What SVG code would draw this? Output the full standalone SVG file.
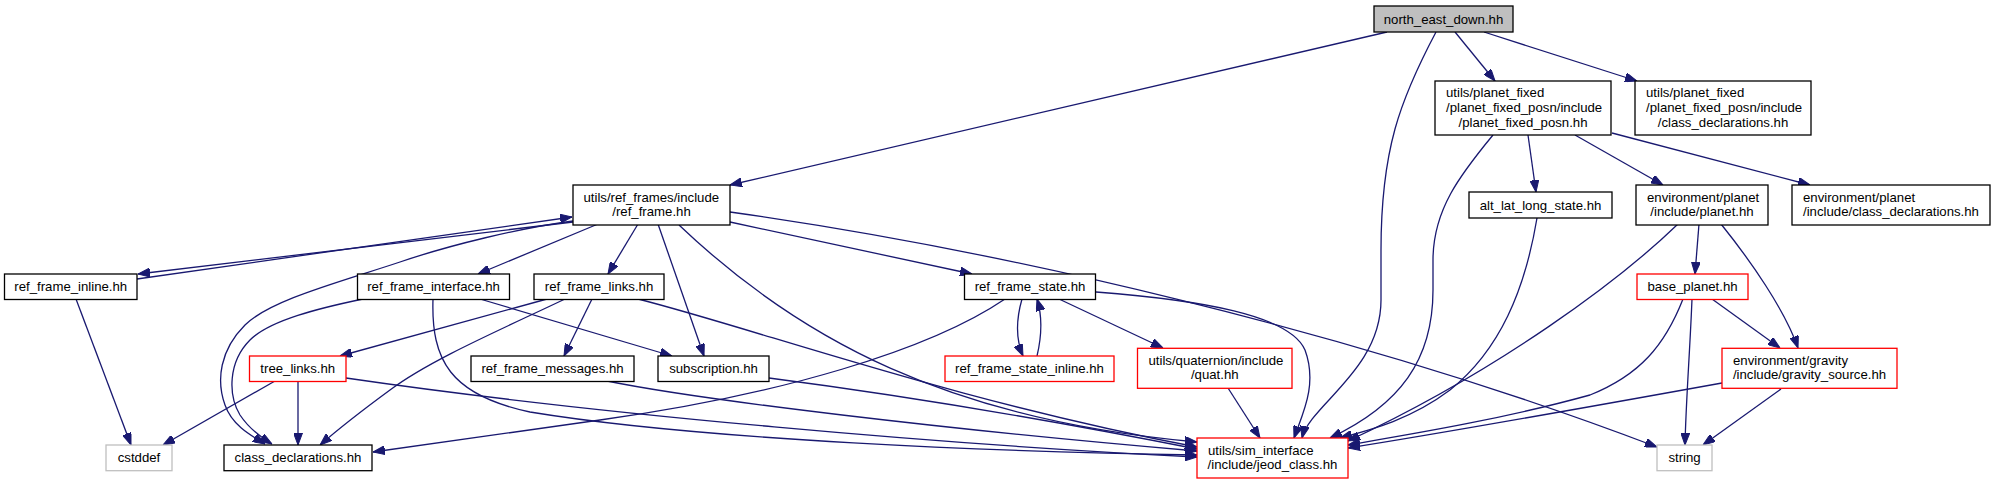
<svg xmlns="http://www.w3.org/2000/svg" width="1995" height="484" viewBox="0 0 1995 484">
<style>
.n rect{fill:#ffffff;stroke:#000000;stroke-width:1.3}
.n.r rect{stroke:#ff0000}
.n.g rect{stroke:#bfbfbf}
.n.root rect{fill:#bfbfbf}
text{font-family:"Liberation Sans",Arial,Helvetica,sans-serif;font-size:13.2px;fill:#000000}
.m{text-anchor:middle}
.s{text-anchor:start}
.e path{fill:none;stroke:#191970;stroke-width:1.3;marker-end:url(#a)}
</style>
<defs>
<marker id="a" markerWidth="12" markerHeight="9" refX="12" refY="4.5" orient="auto" markerUnits="userSpaceOnUse">
<path d="M0,0 L12,4.5 L0,9 z" fill="#191970" stroke="#191970" stroke-width="1"/>
</marker>
</defs>
<rect x="0" y="0" width="1995" height="484" fill="#ffffff"/>
<g id="edges" class="e">
<path d="M1387,32 L730,185"/>
<path d="M1436,32 C1400,100 1381,150 1381,250 L1381,300 C1381,370 1310,405 1302,438"/>
<path d="M1455,32 L1495,81"/>
<path d="M1484,32 L1637,81"/>
<path d="M1493,135 C1460,175 1433,210 1433,260 L1433,290 C1433,360 1400,405 1330,438"/>
<path d="M1528,135 L1536,192"/>
<path d="M1575,135 L1663,185"/>
<path d="M1612,133 L1810,185"/>
<path d="M1537,218 C1525,290 1500,350 1450,390 C1410,420 1370,430 1340,438"/>
<path d="M1678,224 C1620,280 1500,370 1348,441"/>
<path d="M1699,224 L1695,274"/>
<path d="M1721,224 C1750,260 1785,310 1798,348"/>
<path d="M1683,299 C1665,345 1640,375 1590,395 C1500,420 1400,436 1348,445"/>
<path d="M1692,299 C1690,350 1686,400 1685,445"/>
<path d="M1712,299 L1780,348"/>
<path d="M1722,383 C1600,405 1450,432 1348,448"/>
<path d="M1781,389 L1703,445"/>
<path d="M573,222 L138,274"/>
<path d="M137,279 L572,217"/>
<path d="M573,221 C520,228 450,245 400,262 C340,282 270,300 245,325 C220,350 216,380 225,405 C232,425 250,435 265,444"/>
<path d="M598,224 L478,274"/>
<path d="M638,224 L608,274"/>
<path d="M658,224 L704,356"/>
<path d="M679,225 C800,340 950,420 1197,442"/>
<path d="M730,222 L972,274"/>
<path d="M730,212 C1000,250 1350,330 1657,447"/>
<path d="M76,299 L131,445"/>
<path d="M363,299 C320,308 270,320 250,340 C228,362 228,395 240,415 C250,430 262,438 272,444"/>
<path d="M480,299 L672,356"/>
<path d="M433,299 C431,360 450,395 530,412 C700,440 1000,452 1197,455"/>
<path d="M547,299 L340,356"/>
<path d="M592,299 L564,356"/>
<path d="M565,299 C500,330 430,360 390,390 C360,412 335,432 320,445"/>
<path d="M638,299 C760,330 950,400 1197,447"/>
<path d="M275,381 L163,445"/>
<path d="M298,381 L298,445"/>
<path d="M346,378 C600,415 950,445 1197,457"/>
<path d="M607,381 C700,400 950,430 1197,451"/>
<path d="M769,378 C900,395 1050,420 1197,449"/>
<path d="M1005,299 C930,350 780,395 600,420 C500,434 420,445 373,452"/>
<path d="M1022,299 C1016,320 1016,340 1023,356"/>
<path d="M1037,356 C1042,335 1042,315 1037,299"/>
<path d="M1059,299 L1163,348"/>
<path d="M1096,292 C1200,300 1290,315 1305,350 C1318,385 1302,415 1294,438"/>
<path d="M1228,388 L1260,438"/>
</g>
<g id="north_east_down" class="n root"><rect x="1374" y="6" width="139" height="26"/><text class="m" x="1443.5" y="23.5">north_east_down.hh</text></g>
<g id="planet_fixed_posn" class="n"><rect x="1435" y="81" width="176" height="54"/><text class="s" x="1446" y="97.4">utils/planet_fixed</text><text class="s" x="1446" y="112">/planet_fixed_posn/include</text><text class="m" x="1523" y="126.7">/planet_fixed_posn.hh</text></g>
<g id="pf_class_declarations" class="n"><rect x="1635" y="81" width="176" height="54"/><text class="s" x="1646" y="97.4">utils/planet_fixed</text><text class="s" x="1646" y="112">/planet_fixed_posn/include</text><text class="m" x="1723" y="126.7">/class_declarations.hh</text></g>
<g id="ref_frame" class="n"><rect x="573" y="185" width="157" height="40"/><text class="s" x="583.5" y="201.8">utils/ref_frames/include</text><text class="m" x="651.5" y="216.1">/ref_frame.hh</text></g>
<g id="alt_lat_long_state" class="n"><rect x="1469" y="192" width="143" height="26"/><text class="m" x="1540.5" y="209.5">alt_lat_long_state.hh</text></g>
<g id="planet" class="n"><rect x="1636" y="185" width="132" height="40"/><text class="s" x="1647" y="201.8">environment/planet</text><text class="m" x="1702" y="216.1">/include/planet.hh</text></g>
<g id="planet_class_declarations" class="n"><rect x="1792" y="185" width="198" height="40"/><text class="s" x="1803" y="201.8">environment/planet</text><text class="m" x="1891" y="216.1">/include/class_declarations.hh</text></g>
<g id="ref_frame_inline" class="n"><rect x="4.5" y="274" width="132.5" height="25.5"/><text class="m" x="70.75" y="291">ref_frame_inline.hh</text></g>
<g id="ref_frame_interface" class="n"><rect x="357.5" y="274" width="152" height="25.5"/><text class="m" x="433.5" y="291">ref_frame_interface.hh</text></g>
<g id="ref_frame_links" class="n"><rect x="534" y="274" width="130" height="25.5"/><text class="m" x="599" y="291">ref_frame_links.hh</text></g>
<g id="ref_frame_state" class="n"><rect x="964.5" y="274" width="131" height="25.5"/><text class="m" x="1030" y="291">ref_frame_state.hh</text></g>
<g id="base_planet" class="n r"><rect x="1637" y="274" width="111" height="25.5"/><text class="m" x="1692.5" y="291">base_planet.hh</text></g>
<g id="tree_links" class="n r"><rect x="249.5" y="356" width="96.5" height="25.5"/><text class="m" x="297.75" y="373">tree_links.hh</text></g>
<g id="ref_frame_messages" class="n"><rect x="471" y="356" width="163" height="25.5"/><text class="m" x="552.5" y="373">ref_frame_messages.hh</text></g>
<g id="subscription" class="n"><rect x="658" y="356" width="111" height="25.5"/><text class="m" x="713.5" y="373">subscription.hh</text></g>
<g id="ref_frame_state_inline" class="n r"><rect x="945" y="356" width="169" height="25.5"/><text class="m" x="1029.5" y="373">ref_frame_state_inline.hh</text></g>
<g id="quat" class="n r"><rect x="1137.5" y="348.3" width="154.5" height="40"/><text class="s" x="1148.5" y="365.1">utils/quaternion/include</text><text class="m" x="1214.75" y="379.4">/quat.hh</text></g>
<g id="gravity_source" class="n r"><rect x="1722" y="348.3" width="175" height="40"/><text class="s" x="1733" y="365.1">environment/gravity</text><text class="m" x="1809.5" y="379.4">/include/gravity_source.hh</text></g>
<g id="cstddef" class="n g"><rect x="106" y="445" width="66" height="25.7"/><text class="m" x="139" y="462.3">cstddef</text></g>
<g id="class_declarations" class="n"><rect x="224" y="445" width="148" height="25.7"/><text class="m" x="298" y="462.3">class_declarations.hh</text></g>
<g id="jeod_class" class="n r"><rect x="1197" y="438" width="151" height="40"/><text class="s" x="1208" y="454.8">utils/sim_interface</text><text class="m" x="1272.5" y="469.1">/include/jeod_class.hh</text></g>
<g id="string" class="n g"><rect x="1657" y="445" width="55" height="25.7"/><text class="m" x="1684.5" y="462.3">string</text></g>
</svg>
